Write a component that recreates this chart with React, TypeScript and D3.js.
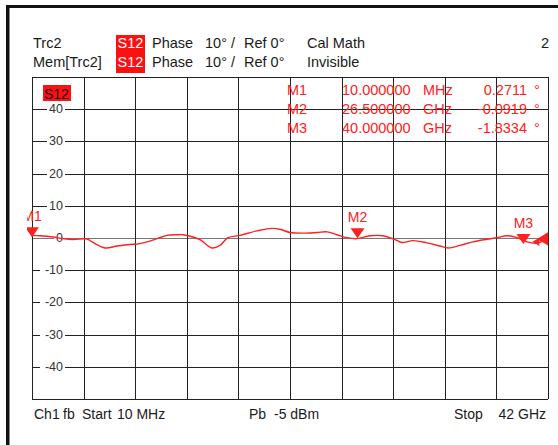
import React from "react";
import * as d3 from "d3";

// ---- data ----
const freqGHz = [0.01, 0.66, 1.72, 2.53, 3.35, 4.49, 4.89, 5.95, 6.93, 7.99, 8.55, 9.37, 10.18, 11.0, 11.81, 12.3, 13.11, 13.68, 14.66, 15.31, 15.96, 16.94, 18.32, 19.54, 20.19, 21.01, 22.06, 23.2, 24.02, 24.83, 25.64, 26.46, 27.52, 28.57, 29.55, 30.12, 31.02, 32.15, 33.21, 33.86, 34.84, 35.89, 37.04, 37.85, 38.66, 39.48, 40.29, 41.11, 41.92];
const phaseDeg = [0.8, 0.7, 0.3, -0.2, -0.5, -0.3, -1.2, -3.1, -2.5, -2.0, -1.9, -1.2, -0.2, 0.8, 1.0, 1.0, 0.3, -0.5, -3.1, -2.3, 0.1, 0.8, 2.2, 3.0, 2.7, 1.7, 1.5, 1.7, 1.9, 1.0, 0.1, -0.2, 0.7, 0.7, -0.5, -1.4, -0.8, -1.5, -2.5, -3.1, -2.3, -1.2, -0.4, 0.1, 0.7, 0.1, -1.2, -1.6, -0.2];

const yTicks = [40, 30, 20, 10, 0, -10, -20, -30, -40];
const markerNames = ["M1", "M2", "M3"];
const markerFreq = [0.01, 26.5, 40];
const markerVal = [0.2711, -0.0919, -1.8334];
const markerFreqText = ["10.000000", "26.500000", "40.000000"];
const markerUnit = ["MHz", "GHz", "GHz"];
const markerValText = ["0.2711", "-0.0919", "-1.8334"];
const edgeMarkerFreq = [42, 41.3];
const edgeMarkerVal = [-0.3, -1.2];

const startF = 0.01;
const stopF = 42;

const FONT = '"Liberation Sans", Arial, sans-serif';
const RED = "#ff2020";
const TXT = "#1a1a1a";

export default function App() {
  const x = d3.scaleLinear().domain([startF, stopF]).range([32, 548]);
  const y = d3.scaleLinear().domain([-50, 50]).range([399, 77]);
  const divs = d3.range(11).map((i) => startF + (i * (stopF - startF)) / 10);
  const hLines = d3.range(-50, 51, 10);

  const pts: [number, number][] = freqGHz.map((f, i) => [f, phaseDeg[i]]);
  const line = d3
    .line<[number, number]>()
    .x((d) => x(d[0]))
    .y((d) => y(d[1]))
    .curve(d3.curveCatmullRom.alpha(0.5));

  const rowBase = [95, 114, 133];

  return (
    <svg
      width={558}
      height={445}
      style={{ position: "fixed", left: 0, top: 0, background: "#fff" }}
      fontFamily={FONT}
    >
      <defs>
        <clipPath id="mclip">
          <rect x={27} y={70} width={531} height={340} />
        </clipPath>
        <clipPath id="pclip">
          <rect x={32} y={77} width={516} height={322} />
        </clipPath>
      </defs>
      <rect x={0} y={0} width={558} height={445} fill="#fff" />
      {/* outer frame */}
      <rect x={6} y={5} width={552} height={3} fill="#111" />
      <rect x={6} y={5} width={3.5} height={440} fill="#111" />

      {/* header */}
      <rect x={116} y={35} width={29} height={38} fill="#ff1010" />
      <g fontSize={14.5} fill={TXT}>
        <text x={33} y={48}>Trc2</text>
        <text x={152} y={48}>Phase</text>
        <text x={205} y={48}>10° /</text>
        <text x={244} y={48}>Ref 0°</text>
        <text x={307} y={48}>Cal Math</text>
        <text x={541} y={48}>2</text>
        <text x={33} y={67}>Mem[Trc2]</text>
        <text x={152} y={67}>Phase</text>
        <text x={205} y={67}>10° /</text>
        <text x={244} y={67}>Ref 0°</text>
        <text x={307} y={67}>Invisible</text>
        <text x={117.5} y={48} fill="#fff">S12</text>
        <text x={117.5} y={67} fill="#fff">S12</text>
      </g>

      {/* grid */}
      <g shapeRendering="crispEdges">
        {hLines.map((v) => (
          <line
            key={"h" + v}
            x1={32}
            x2={548}
            y1={Math.round(y(v)) + 0.5}
            y2={Math.round(y(v)) + 0.5}
            stroke={v === 0 ? "#777" : "#222"}
            strokeWidth={v === 0 ? 1.5 : 1}
          />
        ))}
        {divs.map((f, i) => (
          <line
            key={"v" + i}
            x1={Math.round(x(f)) + 0.5}
            x2={Math.round(x(f)) + 0.5}
            y1={77}
            y2={399}
            stroke="#222"
            strokeWidth={1}
          />
        ))}
      </g>

      {/* y tick labels */}
      <g fontSize={12.5} fill="#333">
        {yTicks.map((v) => {
          const label = String(v).replace("-", "- ");
          const w = v < 0 ? 21 : v === 0 ? 7 : 14;
          return (
            <g key={"t" + v}>
              <rect x={63 - w - 2} y={y(v) - 6} width={w + 4} height={12} fill="#fff" />
              <text x={63} y={y(v)} textAnchor="end" dominantBaseline="central">
                {v < 0 ? "-" + String(-v) : label}
              </text>
            </g>
          );
        })}
      </g>

      {/* S12 tag in plot */}
      <rect x={43} y={85} width={28} height={16} fill="#ff1010" />
      <text x={44} y={98.5} fontSize={14} fill="#111">S12</text>

      {/* marker table */}
      <g fontSize={14.5} fill={RED}>
        {markerNames.map((m, i) => (
          <g key={m}>
            <text x={287} y={rowBase[i]}>{m}</text>
            <text x={342} y={rowBase[i]}>{markerFreqText[i]}</text>
            <text x={423} y={rowBase[i]}>{markerUnit[i]}</text>
            <text x={527} y={rowBase[i]} textAnchor="end">{markerValText[i]}</text>
            <text x={534} y={rowBase[i]}>°</text>
          </g>
        ))}
      </g>

      {/* trace */}
      <path d={line(pts) || ""} fill="none" stroke={RED} strokeWidth={1.4} clipPath="url(#pclip)" />

      {/* markers */}
      <g clipPath="url(#mclip)">
        {markerNames.map((m, i) => {
          const mx = x(markerFreq[i]);
          const my = y(markerVal[i]);
          return (
            <g key={"mk" + m}>
              <path d={`M${mx - 7},${my - 10} L${mx + 7},${my - 10} L${mx},${my} Z`} fill={RED} />
              <text x={mx} y={my - 16} fontSize={14} fill={RED} textAnchor="middle">
                {m}
              </text>
            </g>
          );
        })}
        {edgeMarkerFreq.map((f, i) => {
          const ex = x(f);
          const ey = y(edgeMarkerVal[i]);
          const s = i === 0 ? 11 : 7;
          return (
            <path
              key={"e" + i}
              d={`M${ex - s},${ey} L${ex},${ey - s * 0.6} L${ex},${ey + s * 0.6} Z`}
              fill={RED}
            />
          );
        })}
      </g>

      {/* bottom info */}
      <g fontSize={14} fill={TXT}>
        <text x={34} y={419}>Ch1</text>
        <text x={63} y={419}>fb</text>
        <text x={82} y={419}>Start</text>
        <text x={117} y={419}>10 MHz</text>
        <text x={249} y={419}>Pb</text>
        <text x={274} y={419}>-5 dBm</text>
        <text x={454} y={419}>Stop</text>
        <text x={546} y={419} textAnchor="end">42 GHz</text>
      </g>
    </svg>
  );
}
